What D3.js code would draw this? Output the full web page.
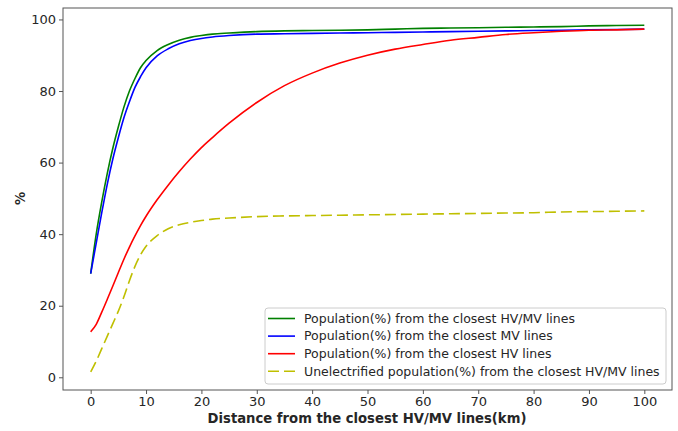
<!DOCTYPE html>
<html>
<head>
<meta charset="utf-8">
<script src="https://cdn.jsdelivr.net/npm/d3@7"></script>
<style>
	body { margin: 0; background: #fff; }
	text { font-family: "DejaVu Sans", sans-serif; fill: #262626; }
</style>
</head>
<body>
<div id="chart"></div>
<script>
// distances (km) at which the curves were read
var distances = [0, 1, 2, 3, 4, 5, 6, 7, 8, 9, 10, 12, 14, 16, 18, 20, 22, 25, 30, 35, 40, 45, 50, 55, 60, 65, 70, 75, 80, 85, 90, 95, 100];

var hvmvValues = [29, 40, 49, 57, 64, 70, 75.5, 80, 83.5, 86.5, 88.5, 91.3, 93, 94.2, 95, 95.5, 95.9, 96.2, 96.6, 96.8, 96.9, 97, 97.1, 97.3, 97.5, 97.6, 97.7, 97.8, 97.9, 98, 98.2, 98.3, 98.4];
var mvValues = [29, 37.5, 46, 54, 61, 67, 72.5, 77, 81, 84, 86.5, 89.8, 91.8, 93.2, 94.1, 94.7, 95.1, 95.5, 95.9, 96, 96.1, 96.2, 96.3, 96.4, 96.5, 96.6, 96.7, 96.8, 96.9, 97, 97.1, 97.2, 97.3];
var hvValues = [12.7, 14.8, 18.2, 21.8, 25.5, 29.3, 33, 36.4, 39.5, 42.4, 45, 49.6, 53.7, 57.5, 61, 64.2, 67, 71, 76.8, 81.5, 85, 87.8, 90, 91.7, 93, 94.2, 95, 95.8, 96.3, 96.7, 97, 97.1, 97.3];
var unelecValues = [1.5, 4.5, 8, 11.5, 15, 18.5, 22.5, 27, 31, 34.2, 36.6, 39.6, 41.5, 42.6, 43.3, 43.8, 44.2, 44.5, 44.9, 45.1, 45.2, 45.3, 45.4, 45.5, 45.6, 45.7, 45.8, 45.9, 46, 46.2, 46.3, 46.4, 46.5];

var seriesNames = [
	"Population(%) from the closest HV/MV lines",
	"Population(%) from the closest MV lines",
	"Population(%) from the closest HV lines",
	"Unelectrified population(%) from the closest HV/MV lines"
];
var seriesColors = ["#008000", "#0000ff", "#ff0000", "#bfbf00"];
var seriesDashes = [null, null, null, "11,5"];
var seriesValues = [hvmvValues, mvValues, hvValues, unelecValues];

var xTicks = [0, 10, 20, 30, 40, 50, 60, 70, 80, 90, 100];
var yTicks = [0, 20, 40, 60, 80, 100];

var w = 678;
var h = 431;
var margin = {top: 8, right: 6, bottom: 41, left: 63};

var svg = d3.select("#chart").append("svg")
	.attr("width", w)
	.attr("height", h);

var x = d3.scaleLinear().domain([-5, 105]).range([margin.left, w - margin.right]);
var y = d3.scaleLinear().domain([-3.55, 103.2]).range([h - margin.bottom, margin.top]);

// lines
var line = d3.line()
	.x(function (d) { return x(d[0]); })
	.y(function (d) { return y(d[1]); })
	.curve(d3.curveMonotoneX);

var lines_group = svg.append("g");
seriesValues.forEach(function (vals, i) {
	lines_group.append("path")
		.datum(distances.map(function (d, j) { return [d, vals[j]]; }))
		.attr("fill", "none")
		.attr("stroke", seriesColors[i])
		.attr("stroke-width", 1.6)
		.attr("stroke-dasharray", seriesDashes[i])
		.attr("d", line);
});

// frame
svg.append("rect")
	.attr("x", margin.left)
	.attr("y", margin.top)
	.attr("width", w - margin.left - margin.right)
	.attr("height", h - margin.top - margin.bottom)
	.attr("fill", "none")
	.attr("stroke", "#555")
	.attr("stroke-width", 1);

// axes
var xAxis = svg.append("g")
	.attr("transform", "translate(0," + (h - margin.bottom) + ")")
	.call(d3.axisBottom(x).tickValues(xTicks).tickSize(4).tickPadding(3));
var yAxis = svg.append("g")
	.attr("transform", "translate(" + margin.left + ",0)")
	.call(d3.axisLeft(y).tickValues(yTicks).tickSize(4).tickPadding(3));

[xAxis, yAxis].forEach(function (a) {
	a.select(".domain").remove();
	a.selectAll("line").attr("stroke", "#555");
	a.selectAll("text")
		.style("font-family", "DejaVu Sans, sans-serif")
		.style("font-size", "13px")
		.attr("fill", "#262626");
});

// axis titles
svg.append("text")
	.attr("x", 367)
	.attr("y", 423)
	.attr("text-anchor", "middle")
	.style("font-size", "13.2px")
	.style("font-weight", "bold")
	.attr("fill", "#000")
	.text("Distance from the closest HV/MV lines(km)");

svg.append("text")
	.attr("transform", "translate(25," + y(50) + ") rotate(-90)")
	.attr("text-anchor", "middle")
	.style("font-size", "13.2px")
	.style("font-weight", "bold")
	.attr("fill", "#000")
	.text("%");

// legend
var legend = svg.append("g").attr("transform", "translate(265,308)");
legend.append("rect")
	.attr("width", 401)
	.attr("height", 76)
	.attr("rx", 3)
	.attr("fill", "#fff")
	.attr("fill-opacity", 0.8)
	.attr("stroke", "#ccc");

seriesNames.forEach(function (name, i) {
	var row = legend.append("g").attr("transform", "translate(0," + (10.5 + i * 17.6) + ")");
	row.append("line")
		.attr("x1", 3).attr("x2", 30)
		.attr("stroke", seriesColors[i])
		.attr("stroke-width", 1.6)
		.attr("stroke-dasharray", seriesDashes[i]);
	row.append("text")
		.attr("x", 39)
		.attr("dy", "0.35em")
		.style("font-size", "12.5px")
		.text(name);
});
</script>
</body>
</html>
